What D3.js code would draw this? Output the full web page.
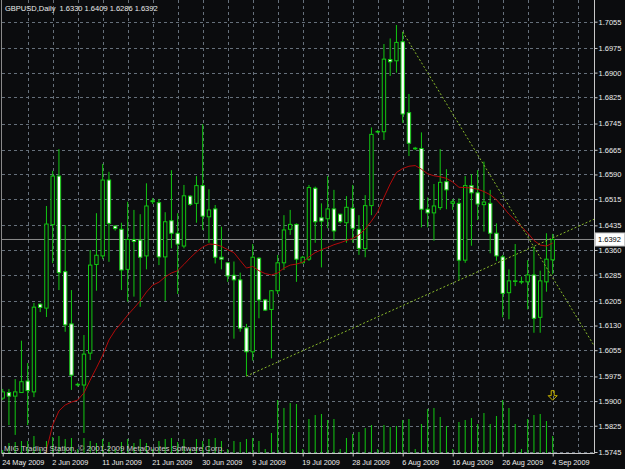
<!DOCTYPE html>
<html>
<head>
<meta charset="utf-8">
<title>GBPUSD Daily</title>
<script src="https://d3js.org/d3.v7.min.js"></script>
<style>
  body { margin: 0; background: #000; }
  svg text { font-family: "Liberation Sans", Arial, sans-serif; }
</style>
</head>
<body>
<div id="chart"></div>
<script>
// daily bars, 24 May 2009 .. 4 Sep 2009 (index = bar number)
const open = [1.5909,1.5926,1.5915,1.5926,1.5961,1.5928,1.6195,1.6183,1.6437,1.6585,
  1.6294,1.6135,1.5951,1.5949,1.6046,1.6316,1.6342,1.6573,1.6433,1.6423,
  1.6301,1.6392,1.6390,1.6342,1.6507,1.6504,1.6339,1.6449,1.6411,1.6372,
  1.6524,1.6502,1.6556,1.6461,1.6485,1.6338,1.6321,1.6283,1.6269,1.6123,
  1.6050,1.6335,1.6208,1.6179,1.6236,1.6321,1.6423,1.6438,1.6321,1.6332,
  1.6548,1.6458,1.6455,1.6485,1.6469,1.6443,1.6487,1.6423,1.6364,1.6495,
  1.6720,1.6720,1.6940,1.6936,1.6994,1.6778,1.6670,1.6669,1.6484,1.6473,
  1.6489,1.6568,1.6502,1.6502,1.6329,1.6556,1.6534,1.6498,1.6502,1.6411,
  1.6339,1.6230,1.6265,1.6263,1.6263,1.6284,1.6155,1.6263,1.6330];
const high = [1.5937,1.5937,1.5967,1.6084,1.6016,1.6199,1.6197,1.6494,1.6601,1.6667,
  1.6436,1.6238,1.5956,1.6101,1.6360,1.6472,1.6622,1.6598,1.6436,1.6443,
  1.6507,1.6482,1.6469,1.6563,1.6518,1.6515,1.6475,1.6603,1.6472,1.6558,
  1.6527,1.6585,1.6743,1.6545,1.6497,1.6431,1.6322,1.6325,1.6291,1.6135,
  1.6378,1.6338,1.6211,1.6238,1.6345,1.6466,1.6482,1.6441,1.6342,1.6558,
  1.6553,1.6502,1.6585,1.6543,1.6470,1.6524,1.6558,1.6466,1.6527,1.6733,
  1.6725,1.6987,1.7004,1.7045,1.7024,1.6835,1.6674,1.6718,1.6520,1.6561,
  1.6667,1.6606,1.6515,1.6517,1.6585,1.6591,1.6603,1.6629,1.6543,1.6441,
  1.6345,1.6301,1.6378,1.6279,1.6329,1.6370,1.6297,1.6411,1.6409];
const low = [1.5903,1.5827,1.5797,1.5925,1.5827,1.5912,1.6171,1.6156,1.6320,1.6238,
  1.6111,1.5934,1.5944,1.5803,1.6025,1.6236,1.6332,1.6324,1.6419,1.6238,
  1.6203,1.6218,1.6187,1.6301,1.6500,1.6314,1.6205,1.6365,1.6226,1.6365,
  1.6494,1.6443,1.6421,1.6382,1.6319,1.6301,1.6263,1.6090,1.6111,1.5976,
  1.6023,1.6152,1.6174,1.6030,1.6226,1.6299,1.6406,1.6263,1.6319,1.6327,
  1.6382,1.6307,1.6426,1.6388,1.6441,1.6382,1.6382,1.6345,1.6338,1.6466,
  1.6715,1.6695,1.6890,1.6900,1.6747,1.6646,1.6664,1.6429,1.6429,1.6388,
  1.6482,1.6484,1.6482,1.6269,1.6321,1.6373,1.6451,1.6416,1.6350,1.6327,
  1.6155,1.6149,1.6250,1.6256,1.6179,1.6108,1.6108,1.6233,1.6286];
const close = [1.5928,1.5915,1.5928,1.5959,1.5932,1.6186,1.6185,1.6439,1.6585,1.6291,
  1.6132,1.5979,1.5950,1.6043,1.6314,1.6344,1.6573,1.6441,1.6425,1.6299,
  1.6392,1.6386,1.6338,1.6494,1.6510,1.6339,1.6446,1.6411,1.6378,1.6525,
  1.6499,1.6556,1.6463,1.6482,1.6338,1.6332,1.6281,1.6269,1.6122,1.6050,
  1.6338,1.6208,1.6177,1.6236,1.6321,1.6421,1.6438,1.6332,1.6338,1.6550,
  1.6446,1.6448,1.6485,1.6418,1.6446,1.6490,1.6426,1.6365,1.6495,1.6712,
  1.6721,1.6941,1.6933,1.6992,1.6774,1.6685,1.6668,1.6484,1.6473,1.6494,
  1.6566,1.6543,1.6507,1.6329,1.6556,1.6534,1.6500,1.6506,1.6411,1.6342,
  1.6228,1.6266,1.6266,1.6264,1.6284,1.6152,1.6266,1.6332,1.6392];
const volume = [1500,5000,5500,6000,6000,8500,2000,6000,8000,8500,
  7000,7500,2000,7500,6000,5000,7000,5500,2000,5500,
  7000,5000,7000,5000,2000,6000,7000,7500,5500,7000,
  2000,7000,6000,7000,7500,6000,2000,6000,5500,7000,
  7500,6000,2000,10000,26500,22500,25000,24500,2000,17000,
  19000,19500,16500,17000,2000,7500,9500,10500,12500,14000,
  2000,14000,13000,13500,16500,17000,2000,14500,22000,22500,
  18000,13500,2000,15500,16500,17500,14500,20000,14500,18500,
  26500,22500,14500,2000,17000,19000,19500,16000,8500];
// moving average as drawn (below the window before bar 6)
const ma = [null,null,null,null,null,null,1.5675,1.5751,1.5827,1.5870,
  1.5888,1.5897,1.5903,1.5925,1.5964,1.6001,1.6040,1.6086,1.6116,1.6138,
  1.6162,1.6183,1.6205,1.6232,1.6253,1.6262,1.6278,1.6290,1.6297,1.6316,
  1.6336,1.6354,1.6369,1.6378,1.6377,1.6371,1.6361,1.6352,1.6328,1.6305,
  1.6310,1.6297,1.6288,1.6284,1.6290,1.6305,1.6314,1.6317,1.6323,1.6339,
  1.6352,1.6361,1.6368,1.6376,1.6382,1.6389,1.6395,1.6406,1.6424,1.6448,
  1.6476,1.6520,1.6561,1.6596,1.6608,1.6615,1.6617,1.6606,1.6592,1.6586,
  1.6583,1.6578,1.6567,1.6551,1.6550,1.6549,1.6545,1.6538,1.6528,1.6513,
  1.6492,1.6469,1.6450,1.6431,1.6412,1.6389,1.6375,1.6372,1.6381];
// trend lines: [bar index, price] anchors
const trendUp = [[39, 1.5976], [95, 1.6457]];
const trendDown = [[64, 1.7024], [95, 1.6057]];
const arrowMark = [88, 1.5918];

const yTicks = [1.7055,1.6975,1.6900,1.6825,1.6745,1.6665,1.6590,1.6515,1.6435,
  1.6360,1.6285,1.6205,1.6130,1.6055,1.5975,1.5900,1.5825,1.5745];
const xTickIdx = [0,8,16,24,32,40,48,56,64,72,80,88];
const xTickLabels = ["24 May 2009","2 Jun 2009","11 Jun 2009","21 Jun 2009","30 Jun 2009",
  "9 Jul 2009","19 Jul 2009","28 Jul 2009","6 Aug 2009","16 Aug 2009","26 Aug 2009","4 Sep 2009"];
const lastPrice = 1.6392;
const title = "GBPUSD,Daily  1.6330 1.6409 1.6286 1.6392";

const W = 625, H = 469;
const plot = { left: 2, right: 594, top: 0, bottom: 453 };
const bg = "#0b0c0e", green = "#12c812";

const svg = d3.select("#chart").append("svg")
  .attr("width", W).attr("height", H);
svg.append("rect").attr("width", W).attr("height", H).attr("fill", bg);

const x = d3.scaleLinear().domain([0, 88]).range([2.7, 552.7]);
const y = d3.scaleLinear().domain([1.5745, 1.7055]).range([452, 21.7]);
const yv = d3.scaleLinear().domain([0, 30000]).range([453, 393]);

svg.append("clipPath").attr("id", "clip").append("rect")
  .attr("x", plot.left).attr("y", plot.top)
  .attr("width", plot.right - plot.left).attr("height", plot.bottom - plot.top);

// grid
const grid = svg.append("g").attr("stroke", "#66707b").attr("stroke-dasharray", "3,3").attr("stroke-width", 1);
grid.selectAll("line.h").data(yTicks).join("line").attr("class", "h")
  .attr("x1", plot.left).attr("x2", plot.right)
  .attr("y1", d => Math.round(y(d)) + 0.5).attr("y2", d => Math.round(y(d)) + 0.5);
grid.selectAll("line.v").data(d3.range(4, 93, 4)).join("line").attr("class", "v")
  .attr("x1", d => Math.round(x(d)) + 0.5).attr("x2", d => Math.round(x(d)) + 0.5)
  .attr("y1", plot.top).attr("y2", plot.bottom);

const g = svg.append("g").attr("clip-path", "url(#clip)");
const bars = open.map((o, i) => ({ i, o, h: high[i], l: low[i], c: close[i], v: volume[i] }));

// volumes
g.selectAll("line.vol").data(bars).join("line").attr("class", "vol")
  .attr("x1", d => x(d.i)).attr("x2", d => x(d.i))
  .attr("y1", yv(0)).attr("y2", d => yv(d.v))
  .attr("stroke", green).attr("stroke-width", 1);

// current price line
g.append("line")
  .attr("x1", plot.left).attr("x2", plot.right)
  .attr("y1", y(lastPrice)).attr("y2", y(lastPrice))
  .attr("stroke", "#8c8c8c").attr("stroke-width", 1);

// candles
g.selectAll("line.wick").data(bars).join("line").attr("class", "wick")
  .attr("x1", d => x(d.i)).attr("x2", d => x(d.i))
  .attr("y1", d => y(d.h)).attr("y2", d => y(d.l))
  .attr("stroke", green).attr("stroke-width", 1);
g.selectAll("rect.body").data(bars).join("rect").attr("class", "body")
  .attr("x", d => x(d.i) - 1.7).attr("width", 3.4)
  .attr("y", d => y(Math.max(d.o, d.c)))
  .attr("height", d => Math.max(0.6, Math.abs(y(d.o) - y(d.c))))
  .attr("fill", d => d.c >= d.o ? bg : "#ffffff")
  .attr("stroke", green).attr("stroke-width", 1);

// moving average
g.append("path").datum(ma)
  .attr("d", d3.line().defined(d => d != null).x((d, i) => x(i)).y(d => y(d)))
  .attr("fill", "none").attr("stroke", "#b30a0a").attr("stroke-width", 1);

// trend lines
const tl = d3.line().x(d => x(d[0])).y(d => y(d[1]));
[trendUp, trendDown].forEach(t => {
  g.append("path").attr("d", tl(t))
    .attr("fill", "none").attr("stroke", "#88b82a")
    .attr("stroke-width", 1).attr("stroke-dasharray", "2,2");
});

// arrow object
const ax = x(arrowMark[0]), ay = y(arrowMark[1]);
g.append("path")
  .attr("d", `M${ax - 1.5},${ay - 4.5}h3v5h3l-4.5,4.5l-4.5,-4.5h3z`)
  .attr("fill", "none").attr("stroke", "#c8b400").attr("stroke-width", 1);

// frame
svg.append("line").attr("x1", 1.5).attr("x2", 1.5).attr("y1", 0).attr("y2", plot.bottom)
  .attr("stroke", "#8a8a8a");
svg.append("line").attr("x1", plot.right + 0.5).attr("x2", plot.right + 0.5).attr("y1", 0).attr("y2", plot.bottom + 0.5)
  .attr("stroke", "#c8c8c8");
svg.append("line").attr("x1", 1.5).attr("x2", plot.right + 0.5).attr("y1", plot.bottom + 0.5).attr("y2", plot.bottom + 0.5)
  .attr("stroke", "#c8c8c8");

// price axis
const yAxis = svg.append("g").attr("transform", `translate(${plot.right + 0.5},0)`)
  .call(d3.axisRight(y).tickValues(yTicks).tickFormat(d3.format(".4f")).tickSize(3).tickPadding(1));
yAxis.select(".domain").remove();
yAxis.selectAll("line").attr("stroke", "#c8c8c8");
yAxis.selectAll("text").attr("fill", "#ececec").style("font-size", "7.5px");

// current price label
svg.append("rect").attr("x", 595.5).attr("y", y(lastPrice) - 6.5).attr("width", 29).attr("height", 13)
  .attr("fill", "#ffffff").attr("stroke", "#c8c8c8");
svg.append("text").attr("x", 598).attr("y", y(lastPrice) + 2.7)
  .attr("fill", "#000").style("font-size", "7.5px").text(d3.format(".4f")(lastPrice));

// time axis
const xAxis = svg.append("g").attr("transform", `translate(0,${plot.bottom + 0.5})`)
  .call(d3.axisBottom(x).tickValues(xTickIdx).tickFormat((d, i) => xTickLabels[i]).tickSize(3).tickPadding(3));
xAxis.select(".domain").remove();
xAxis.selectAll("line").attr("stroke", "#c8c8c8");
xAxis.selectAll("text").attr("fill", "#ececec").attr("text-anchor", "start")
  .attr("dx", -1).style("font-size", "7.3px");

// header and footer text
svg.append("text").attr("x", 5).attr("y", 10.5).attr("fill", "#ececec")
  .style("font-size", "7.5px").style("white-space", "pre").text(title);
svg.append("text").attr("x", 4).attr("y", 451).attr("fill", "#cccccc")
  .style("font-size", "7.9px").text("MIG Trading Station, \u00a9 2001-2009 MetaQuotes Software Corp.");
</script>
</body>
</html>
